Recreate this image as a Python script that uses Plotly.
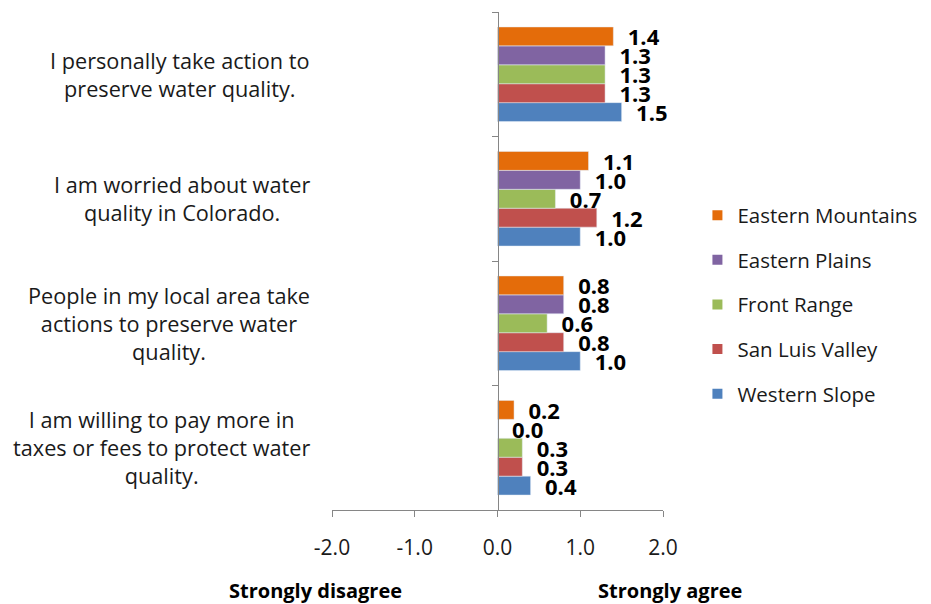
import plotly.graph_objects as go

# statements, listed bottom to top
statements = [
    "I am willing to pay more in<br>taxes or fees to protect water<br>quality.",
    "People in my local area take<br>actions to preserve water<br>quality.",
    "I am worried about water<br>quality in Colorado.",
    "I personally take action to<br>preserve water quality.",
]

regions = ["Western Slope", "San Luis Valley", "Front Range", "Eastern Plains", "Eastern Mountains"]
colors = ["#4F81BD", "#C0504D", "#9BBB59", "#8064A2", "#E46C0A"]

western_slope = [0.4, 1.0, 1.0, 1.5]
san_luis_valley = [0.3, 0.8, 1.2, 1.3]
front_range = [0.3, 0.6, 0.7, 1.3]
eastern_plains = [0.0, 0.8, 1.0, 1.3]
eastern_mountains = [0.2, 0.8, 1.1, 1.4]
series = [western_slope, san_luis_valley, front_range, eastern_plains, eastern_mountains]

x_ticks = [-2, -1, 0, 1, 2]
x_tick_labels = ["-2.0", "-1.0", "0.0", "1.0", "2.0"]

FONT = "Open Sans, Calibri, sans-serif"
# page body adds an 8px offset, so the figure is 8px smaller
W, H = 931 - 8, 604 - 8
L, T = 332 - 8, 12 - 8
R, B = W - (663 - 8), H - (510 - 8)

fig = go.Figure()

for name, vals, col in zip(regions, series, colors):
    fig.add_trace(go.Bar(
        y=statements, x=vals, orientation="h", name=name,
        marker=dict(color=col),
        text=vals, texttemplate="\u00a0\u00a0%{x:.1f}",
        textposition="outside", constraintext="none", cliponaxis=False,
        textfont=dict(family=FONT, size=22, color="black", weight="bold"),
        showlegend=False, hoverinfo="x+name",
    ))

# legend entries with small square swatches (top to bottom)
for i, (name, col) in enumerate(zip(regions[::-1], colors[::-1])):
    fig.add_trace(go.Scatter(
        x=[None], y=[None], mode="markers", name=name,
        marker=dict(symbol="square", size=10, color=col),
        legendgroup=f"g{i}", showlegend=True,
    ))

# category labels: right-aligned block, centred lines
for s in statements:
    fig.add_annotation(
        x=0, xref="paper", y=s, yref="y", text=s, showarrow=False,
        xanchor="right", yanchor="middle", align="center", xshift=-20,
        font=dict(family=FONT, size=21.7, color="#1a1a1a"),
    )

fig.add_annotation(x=-0.051, xref="paper", y=-0.161, yref="paper", text="<b>Strongly disagree</b>",
                   showarrow=False, xanchor="center", yanchor="middle",
                   font=dict(family=FONT, size=20, color="black"))
fig.add_annotation(x=1.021, xref="paper", y=-0.161, yref="paper", text="<b>Strongly agree</b>",
                   showarrow=False, xanchor="center", yanchor="middle",
                   font=dict(family=FONT, size=20, color="black"))

fig.update_layout(
    width=W, height=H,
    margin=dict(l=L, r=R, t=T, b=B),
    paper_bgcolor="white", plot_bgcolor="white",
    barmode="group", bargap=0.24, bargroupgap=0,
    font=dict(family=FONT, size=21.5, color="#1a1a1a"),
    legend=dict(x=1.104, y=0.412, xanchor="left", yanchor="middle",
                traceorder="grouped", tracegroupgap=15,
                font=dict(family=FONT, size=20.5, color="#1a1a1a"),
                itemwidth=30),
    xaxis=dict(range=[-2, 2], tickvals=x_ticks, ticktext=x_tick_labels,
               showgrid=False, zeroline=False, showline=True,
               linecolor="#868686", linewidth=1, ticks="outside",
               ticklen=6, tickcolor="#868686", ticklabelstandoff=13,
               tickfont=dict(family=FONT, size=21, color="#1a1a1a")),
    yaxis=dict(categoryorder="array", categoryarray=statements,
               anchor="free", position=0.5, showgrid=False, zeroline=False,
               showline=True, linecolor="#868686", linewidth=1,
               ticks="outside", tickson="boundaries", ticklen=6,
               tickcolor="#868686", showticklabels=False),
)

fig.write_html("out.html")
